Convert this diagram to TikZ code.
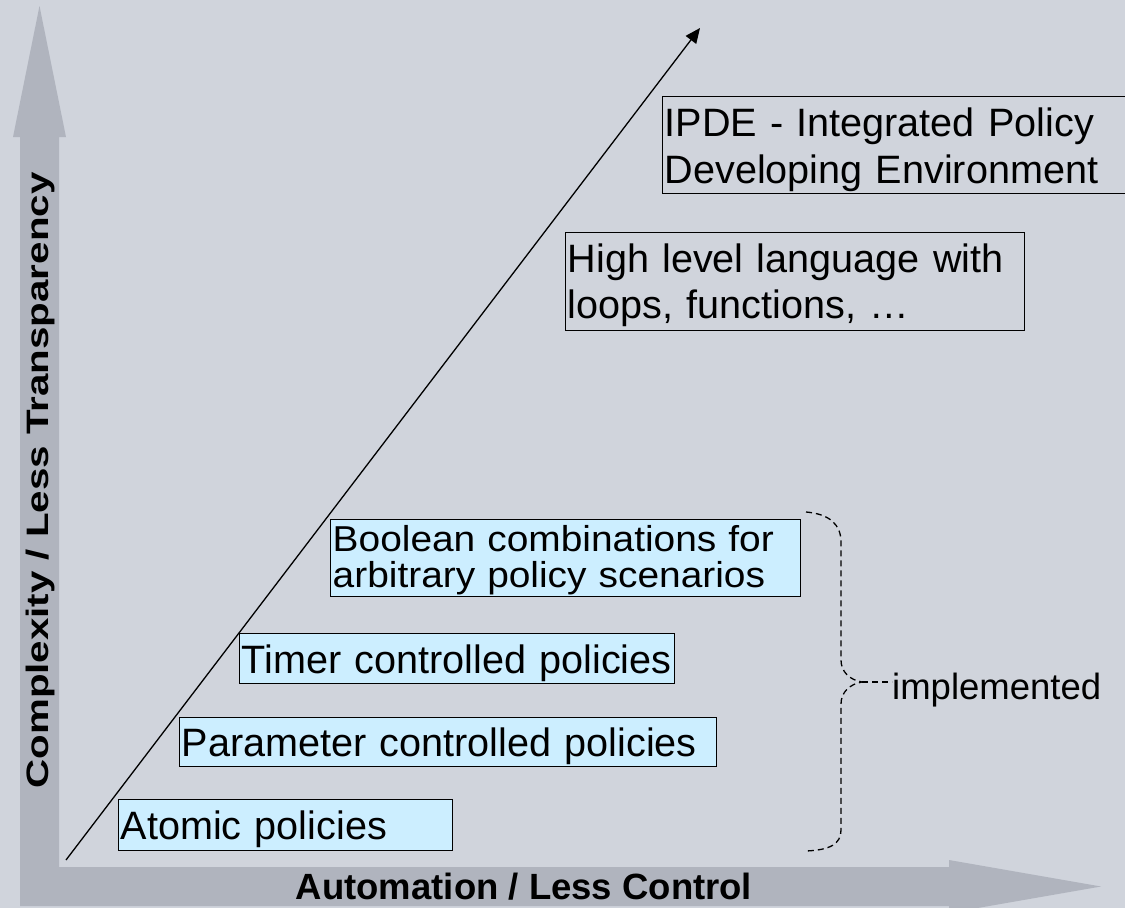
\documentclass[tikz,border=0pt]{standalone}
\usepackage{fontspec}
\usepackage{graphicx}
\setmainfont{Liberation Sans}
\newfontfamily\stretchfont[FakeStretch=1.08]{Liberation Sans}
\usetikzlibrary{arrows.meta}
\definecolor{bg}{RGB}{208,212,220}
\definecolor{axisgray}{RGB}{176,180,190}
\definecolor{boxblue}{RGB}{204,238,255}
\hyphenpenalty=10000
\exhyphenpenalty=10000
\begin{document}
\begin{tikzpicture}[x=1pt,y=-1pt,
  box/.style={draw=black, line width=1.4pt, anchor=north west, inner xsep=2pt, inner ysep=0pt, align=left},
  filled/.style={box, fill=boxblue},
  single/.style={text height=36pt, text depth=7pt, font=\fontsize{39.6}{47}\selectfont},
  axislabel/.style={font=\bfseries\fontsize{36.5}{40}\selectfont, inner sep=0pt},
  brace/.style={line width=1.3pt, dash pattern=on 6pt off 4pt},
]
\useasboundingbox (0,0) rectangle (1125,908);
\fill[bg] (0,0) rectangle (1125,908);

% axis arrows (L-shaped)
\fill[axisgray] (20,906) -- (20,137) -- (13,137) -- (39.5,6) -- (66,137) -- (59,137)
  -- (59,867) -- (949,867) -- (949,860) -- (1101,886.5) -- (949,913) -- (949,906) -- cycle;

\node[axislabel, anchor=base] (xlabel) at (524,899) {Automation / Less Control};
\node[axislabel, anchor=base, rotate=90, font=\bfseries\fontsize{31}{34}\selectfont] (ylabel) at (48.5,480.5)
  {\scalebox{1.3}[1]{Complexity / Less Transparency}};

% diagonal arrow
\coordinate (dstart) at (66,860);
\coordinate (dend) at (700,28);
\draw[line width=1.3pt, -{Triangle[length=15pt,width=13pt]}] (dstart) -- (dend);

% boxes
\node[filled, single, minimum height=51pt, text width=330pt] (atomic) at (118,799) {Atomic policies};
\node[filled, single, minimum height=49pt, text width=533pt] (param) at (179,717) {Parameter controlled policies};
\node[filled, single, minimum height=50pt, text width=431pt] (timer) at (239,633) {Timer controlled policies};
\node[filled, minimum height=77pt, text width=466pt, text height=30.6pt, font=\stretchfont\fontsize{36}{36}\selectfont] (boolean) at (330,519)
  {Boolean combinations for\\arbitrary policy scenarios};
\node[box, minimum height=98pt, text width=455pt, text height=36.3pt, font=\fontsize{39.6}{46.5}\selectfont] (highlevel) at (565,232)
  {High level language with\\loops, functions, \dots};
\node[box, minimum height=97pt, text width=462pt, text height=38.4pt, font=\fontsize{39.6}{47}\selectfont] (ipde) at (662,96)
  {IPDE - Integrated Policy\\Developing Environment};

% brace
\coordinate (btop) at (806,512);
\coordinate (btip) at (862,682);
\coordinate (bbot) at (806,851);
\draw[brace] (btop) .. controls (830,514) and (841,525) .. (841,542) -- (841,660)
  .. controls (841,672) and (850,680) .. (btip)
  .. controls (850,684) and (841,692) .. (841,704) -- (841,830)
  .. controls (841,844) and (830,850) .. (bbot);
\node[font=\fontsize{36.5}{40}\selectfont, anchor=base west, inner sep=0pt] (impl) at (892,699) {implemented};
\draw[brace] (btip) -- (impl.west |- btip);
\end{tikzpicture}
\end{document}
